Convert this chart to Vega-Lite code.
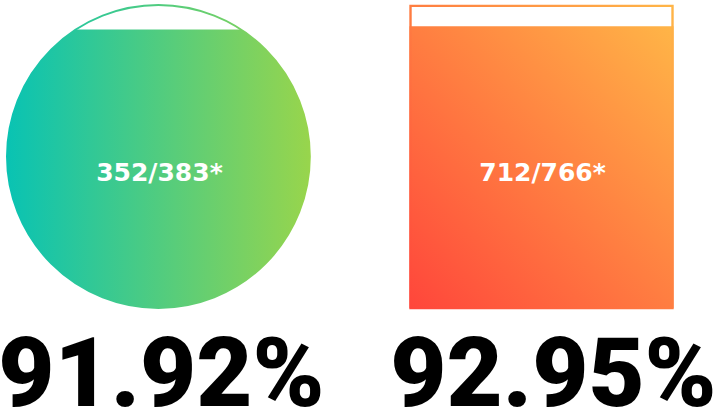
{
  "$schema": "https://vega.github.io/schema/vega-lite/v6.json",
  "width": 721,
  "height": 413,
  "autosize": {"type": "none"},
  "padding": 0,
  "background": "white",
  "config": {"view": {"stroke": null}},
  "data": {
    "values": [
      {"item": "A", "shape": "circle", "count": 352, "total": 383, "pct": 91.92, "label": "352/383*", "pctLabel": "91.92%"},
      {"item": "B", "shape": "square", "count": 712, "total": 766, "pct": 92.95, "label": "712/766*", "pctLabel": "92.95%"}
    ]
  },
  "encoding": {
    "x": {
      "field": "item",
      "type": "nominal",
      "axis": null,
      "scale": {"type": "band", "paddingInner": 0.5, "paddingOuter": 0.191, "align": 0.428}
    }
  },
  "layer": [
    {
      "transform": [{"filter": "datum.shape === 'circle'"}],
      "mark": {
        "type": "point",
        "shape": "circle",
        "filled": true,
        "size": 91809,
        "opacity": 1,
        "strokeWidth": 0,
        "fill": {
          "gradient": "linear", "x1": 0, "y1": 0, "x2": 1, "y2": 0,
          "stops": [{"offset": 0, "color": "#09c3b3"}, {"offset": 1, "color": "#98d54c"}]
        }
      },
      "encoding": {
        "y": {"datum": 50, "type": "quantitative", "axis": null, "scale": {"domain": [-34.65, 101.65], "nice": false, "zero": false}}
      }
    },
    {
      "transform": [{"filter": "datum.shape === 'circle'"}],
      "mark": {"type": "bar", "width": 312, "color": "white"},
      "encoding": {
        "y": {"field": "pct", "type": "quantitative", "axis": null, "scale": {"domain": [-34.65, 101.65], "nice": false, "zero": false}},
        "y2": {"datum": 101.65}
      }
    },
    {
      "transform": [{"filter": "datum.shape === 'circle'"}],
      "mark": {
        "type": "point",
        "shape": "circle",
        "filled": false,
        "size": 91809,
        "opacity": 1,
        "strokeWidth": 1.8,
        "stroke": {
          "gradient": "linear", "x1": 0, "y1": 0, "x2": 1, "y2": 0,
          "stops": [{"offset": 0, "color": "#09c3b3"}, {"offset": 1, "color": "#98d54c"}]
        }
      },
      "encoding": {
        "y": {"datum": 50, "type": "quantitative", "axis": null, "scale": {"domain": [-34.65, 101.65], "nice": false, "zero": false}}
      }
    },
    {
      "transform": [{"filter": "datum.shape === 'square'"}],
      "mark": {
        "type": "bar",
        "width": 264,
        "fill": {
          "gradient": "linear", "x1": 0, "y1": 1, "x2": 1, "y2": 0,
          "stops": [{"offset": 0, "color": "#ff463b"}, {"offset": 1, "color": "#ffb547"}]
        }
      },
      "encoding": {
        "y": {"field": "pct", "type": "quantitative", "axis": null, "scale": {"domain": [-34.65, 101.65], "nice": false, "zero": false}},
        "y2": {"datum": 0}
      }
    },
    {
      "transform": [{"filter": "datum.shape === 'square'"}],
      "mark": {
        "type": "bar",
        "width": 262,
        "fillOpacity": 0,
        "strokeWidth": 2.4,
        "stroke": {
          "gradient": "linear", "x1": 0, "y1": 1, "x2": 1, "y2": 0,
          "stops": [{"offset": 0, "color": "#ff463b"}, {"offset": 1, "color": "#ffb547"}]
        }
      },
      "encoding": {
        "y": {"datum": 99.7, "type": "quantitative", "axis": null, "scale": {"domain": [-34.65, 101.65], "nice": false, "zero": false}},
        "y2": {"datum": 0}
      }
    },
    {
      "mark": {"type": "text", "color": "white", "font": "DejaVu Sans", "fontWeight": "bold", "fontSize": 25, "baseline": "middle", "align": "center", "dx": 1},
      "encoding": {
        "y": {"datum": 44.5, "type": "quantitative", "axis": null, "scale": {"domain": [-34.65, 101.65], "nice": false, "zero": false}},
        "text": {"field": "label"}
      }
    },
    {
      "transform": [{"filter": "datum.shape === 'circle'"}],
      "mark": {"type": "text", "color": "black", "font": "Roboto", "fontWeight": 900, "fontSize": 97, "baseline": "alphabetic", "align": "center", "dx": 3},
      "encoding": {
        "y": {"datum": -32.4, "type": "quantitative", "axis": null, "scale": {"domain": [-34.65, 101.65], "nice": false, "zero": false}},
        "text": {"field": "pctLabel"}
      }
    },
    {
      "transform": [{"filter": "datum.shape === 'square'"}],
      "mark": {"type": "text", "color": "black", "font": "Roboto", "fontWeight": 900, "fontSize": 97, "baseline": "alphabetic", "align": "center", "dx": 12},
      "encoding": {
        "y": {"datum": -32.4, "type": "quantitative", "axis": null, "scale": {"domain": [-34.65, 101.65], "nice": false, "zero": false}},
        "text": {"field": "pctLabel"}
      }
    }
  ]
}
